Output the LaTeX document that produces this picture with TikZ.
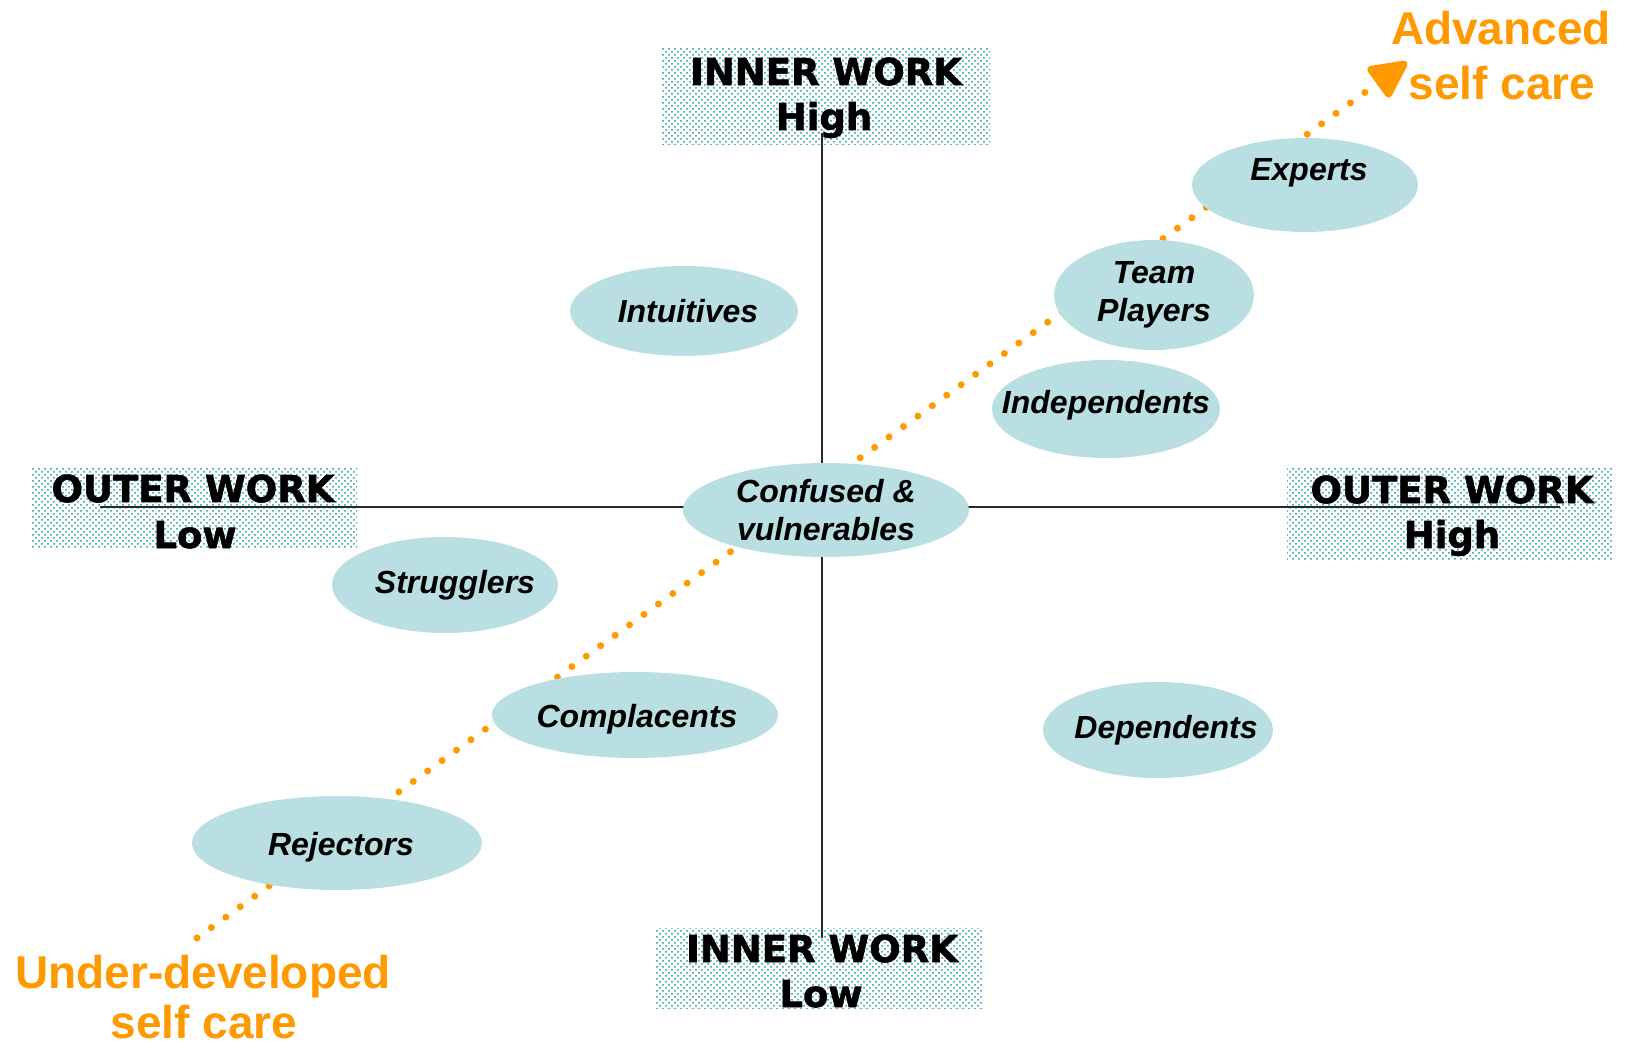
\documentclass[tikz,border=0pt]{standalone}
\usepackage{fontspec}
\setmainfont{Liberation Sans}
\newfontfamily\heavyfont{DejaVu Sans Bold}[FakeBold=1.6]
\usetikzlibrary{shapes.geometric,patterns,arrows.meta}
\definecolor{blob}{RGB}{185,223,227}
\definecolor{dotteal}{RGB}{20,155,160}
\definecolor{orangeA}{RGB}{255,153,0}
\definecolor{axisgray}{RGB}{40,40,40}
\pgfdeclarepatternformonly{stagdots}{\pgfqpoint{-0.6pt}{-0.6pt}}{\pgfqpoint{2.6pt}{2.6pt}}{\pgfqpoint{3pt}{3pt}}{%
  \pgfpathcircle{\pgfqpoint{0pt}{0pt}}{0.5pt}%
  \pgfpathcircle{\pgfqpoint{1.5pt}{1.5pt}}{0.5pt}%
  \pgfusepath{fill}}
\tikzset{
  blobnode/.style={ellipse, fill=blob, draw=none, inner sep=0pt},
  blobtext/.style={font=\bfseries\itshape\fontsize{16}{19}\selectfont, align=center, inner sep=0pt},
  axisbox/.style={rectangle, pattern=stagdots, pattern color=dotteal, draw=none, inner sep=0pt},
  axistext/.style={font=\heavyfont\fontsize{18.5}{22}\selectfont, anchor=base, inner sep=0pt},
  selftext/.style={font=\bfseries\fontsize{23}{27}\selectfont, text=orangeA, anchor=base, inner sep=0pt},
  axisline/.style={draw=axisgray, line width=0.8pt},
  dotline/.style={draw=orangeA, line width=3.5pt, line cap=round, dash pattern=on 0pt off 8.9pt,
    -{Triangle[length=21pt,width=20pt,round=false]}}
}
\begin{document}
\begin{tikzpicture}[x=0.5pt,y=-0.5pt]
\useasboundingbox (0,0) rectangle (1630,1048);
% boxes
\node[axisbox, minimum width=164pt, minimum height=48.5pt] (boxT) at (826,96.5) {};
\node[axisbox, minimum width=162.5pt, minimum height=40pt] (boxL) at (194.5,508) {};
\node[axisbox, minimum width=163pt, minimum height=46pt] (boxR) at (1450,514) {};
\node[axisbox, minimum width=164pt, minimum height=40pt] (boxB) at (819,968) {};
% axes
\coordinate (axL) at (100,507);
\coordinate (axR) at (1560,507);
\coordinate (axT) at (822,133);
\coordinate (axB) at (822,938);
\draw[axisline] (axL) -- (axR);
\draw[axisline] (axT) -- (axB);
% axis texts
\node[axistext] (tT1) at (826,85) {INNER WORK};
\node[axistext] (tT2) at (824,130) {High};
\node[axistext] (tL1) at (193,502) {OUTER WORK};
\node[axistext] (tL2) at (195,548) {Low};
\node[axistext] (tR1) at (1452,503) {OUTER WORK};
\node[axistext] (tR2) at (1452,548) {High};
\node[axistext] (tB1) at (822,962) {INNER WORK};
\node[axistext] (tB2) at (821,1007) {Low};
% dotted development line
\coordinate (dS) at (197,938);
\coordinate (dE) at (1407,62);
\draw[dotline] (dS) -- (dE);
% ellipses
\node[blobnode, minimum width=143pt, minimum height=47pt, label={[blobtext]center:Confused \&\\vulnerables}] (confused) at (826,510) {};
\node[blobnode, minimum width=113pt, minimum height=47pt, label={[blobtext,yshift=6pt,xshift=2pt]center:Experts}] (experts) at (1305,185) {};
\node[blobnode, minimum width=100pt, minimum height=55pt, label={[blobtext]center:Team\\Players}] (team) at (1154,295) {};
\node[blobnode, minimum width=114pt, minimum height=49pt, label={[blobtext,yshift=2pt]center:Independents}] (indep) at (1106,409) {};
\node[blobnode, minimum width=114pt, minimum height=45pt, label={[blobtext,xshift=2pt]center:Intuitives}] (intuit) at (684,311) {};
\node[blobnode, minimum width=113pt, minimum height=48pt, label={[blobtext,xshift=5pt]center:Strugglers}] (strug) at (445,585) {};
\node[blobnode, minimum width=143pt, minimum height=43pt, label={[blobtext,xshift=1pt,yshift=-2pt]center:Complacents}] (compl) at (635,715) {};
\node[blobnode, minimum width=145pt, minimum height=47pt, label={[blobtext,xshift=2pt,yshift=-2pt]center:Rejectors}] (rejec) at (337,843) {};
\node[blobnode, minimum width=115pt, minimum height=48pt, label={[blobtext,xshift=4pt]center:Dependents}] (depend) at (1158,730) {};
% orange texts
\node[selftext] (adv1) at (1501,45) {Advanced};
\node[selftext] (adv2) at (1502,100) {self care};
\node[selftext] (und1) at (203,988) {Under-developed};
\node[selftext] (und2) at (204,1038) {self care};
\end{tikzpicture}
\end{document}
